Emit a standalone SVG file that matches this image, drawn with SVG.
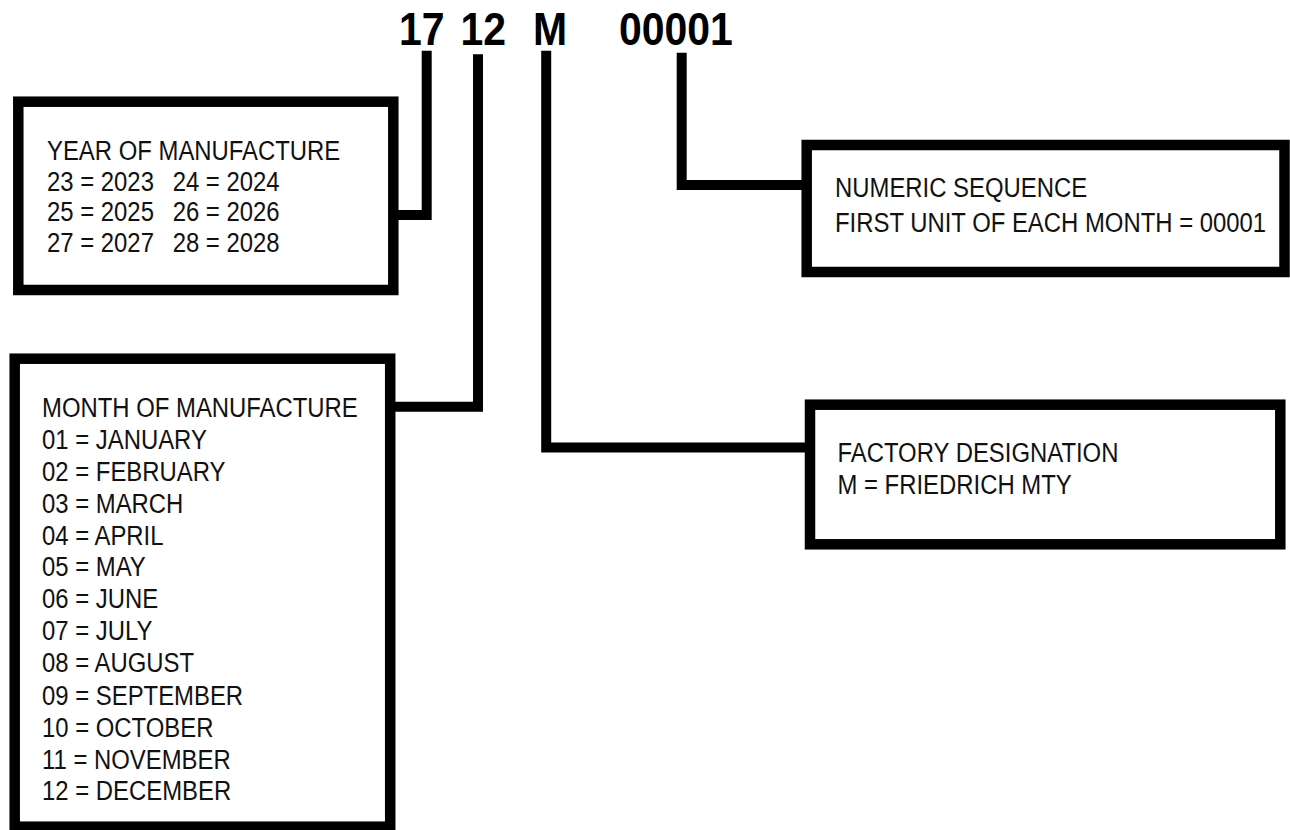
<svg xmlns="http://www.w3.org/2000/svg" width="1290" height="830" viewBox="0 0 1290 830">
<style>
.box{fill:#fff;stroke:#000;stroke-width:10.5}
.con{fill:none;stroke:#000;stroke-width:10;stroke-linejoin:miter;stroke-linecap:butt}
.t{font-family:"Liberation Sans",Arial,sans-serif;font-size:27px;fill:#111}
.h{font-family:"Liberation Sans",Arial,sans-serif;font-size:46px;font-weight:bold;fill:#000;text-anchor:middle}
</style>
<rect width="1290" height="830" fill="#fff"/>
<g id="title">
<text class="h" transform="translate(421.7,45) scale(0.89,1)">17</text>
<text class="h" transform="translate(483.3,45) scale(0.89,1)">12</text>
<text class="h" transform="translate(550,45) scale(0.89,1)">M</text>
<text class="h" transform="translate(675.8,45) scale(0.89,1)">00001</text>
</g>
<g id="connectors">
<path class="con" d="M388,215 H426.7 V50.7"/>
<path class="con" d="M390,406.7 H478 V54.3"/>
<path class="con" d="M546.2,50.7 V447.5 H806"/>
<path class="con" d="M681.7,52.7 V185 H802"/>
</g>
<g id="year">
<rect class="box" x="18.3" y="101.7" width="375" height="188.3"/>
<text class="t" transform="translate(47,160) scale(0.885,1)"><tspan x="0" y="0">YEAR OF MANUFACTURE</tspan><tspan x="0" y="31">23 = 2023</tspan><tspan x="142" y="31">24 = 2024</tspan><tspan x="0" y="61.5">25 = 2025</tspan><tspan x="142" y="61.5">26 = 2026</tspan><tspan x="0" y="92">27 = 2027</tspan><tspan x="142" y="92">28 = 2028</tspan></text>
</g>
<g id="month">
<rect class="box" x="14.7" y="358.7" width="375.5" height="468"/>
<text class="t" transform="translate(42,417) scale(0.885,1)"><tspan x="0" y="0">MONTH OF MANUFACTURE</tspan><tspan x="0" y="32">01 = JANUARY</tspan><tspan x="0" y="64">02 = FEBRUARY</tspan><tspan x="0" y="96">03 = MARCH</tspan><tspan x="0" y="128">04 = APRIL</tspan><tspan x="0" y="159.5">05 = MAY</tspan><tspan x="0" y="191">06 = JUNE</tspan><tspan x="0" y="223">07 = JULY</tspan><tspan x="0" y="255">08 = AUGUST</tspan><tspan x="0" y="288">09 = SEPTEMBER</tspan><tspan x="0" y="320">10 = OCTOBER</tspan><tspan x="0" y="352">11 = NOVEMBER</tspan><tspan x="0" y="383.5">12 = DECEMBER</tspan></text>
</g>
<g id="numeric">
<rect class="box" x="806.7" y="145" width="477.8" height="127"/>
<text class="t" transform="translate(835,196.7) scale(0.885,1)"><tspan x="0" y="0">NUMERIC SEQUENCE</tspan><tspan x="0" y="35">FIRST UNIT OF EACH MONTH = 00001</tspan></text>
</g>
<g id="factory">
<rect class="box" x="810" y="404.7" width="470.3" height="139.6"/>
<text class="t" transform="translate(837.5,461.7) scale(0.885,1)"><tspan x="0" y="0">FACTORY DESIGNATION</tspan><tspan x="0" y="32.3">M = FRIEDRICH MTY</tspan></text>
</g>
</svg>
